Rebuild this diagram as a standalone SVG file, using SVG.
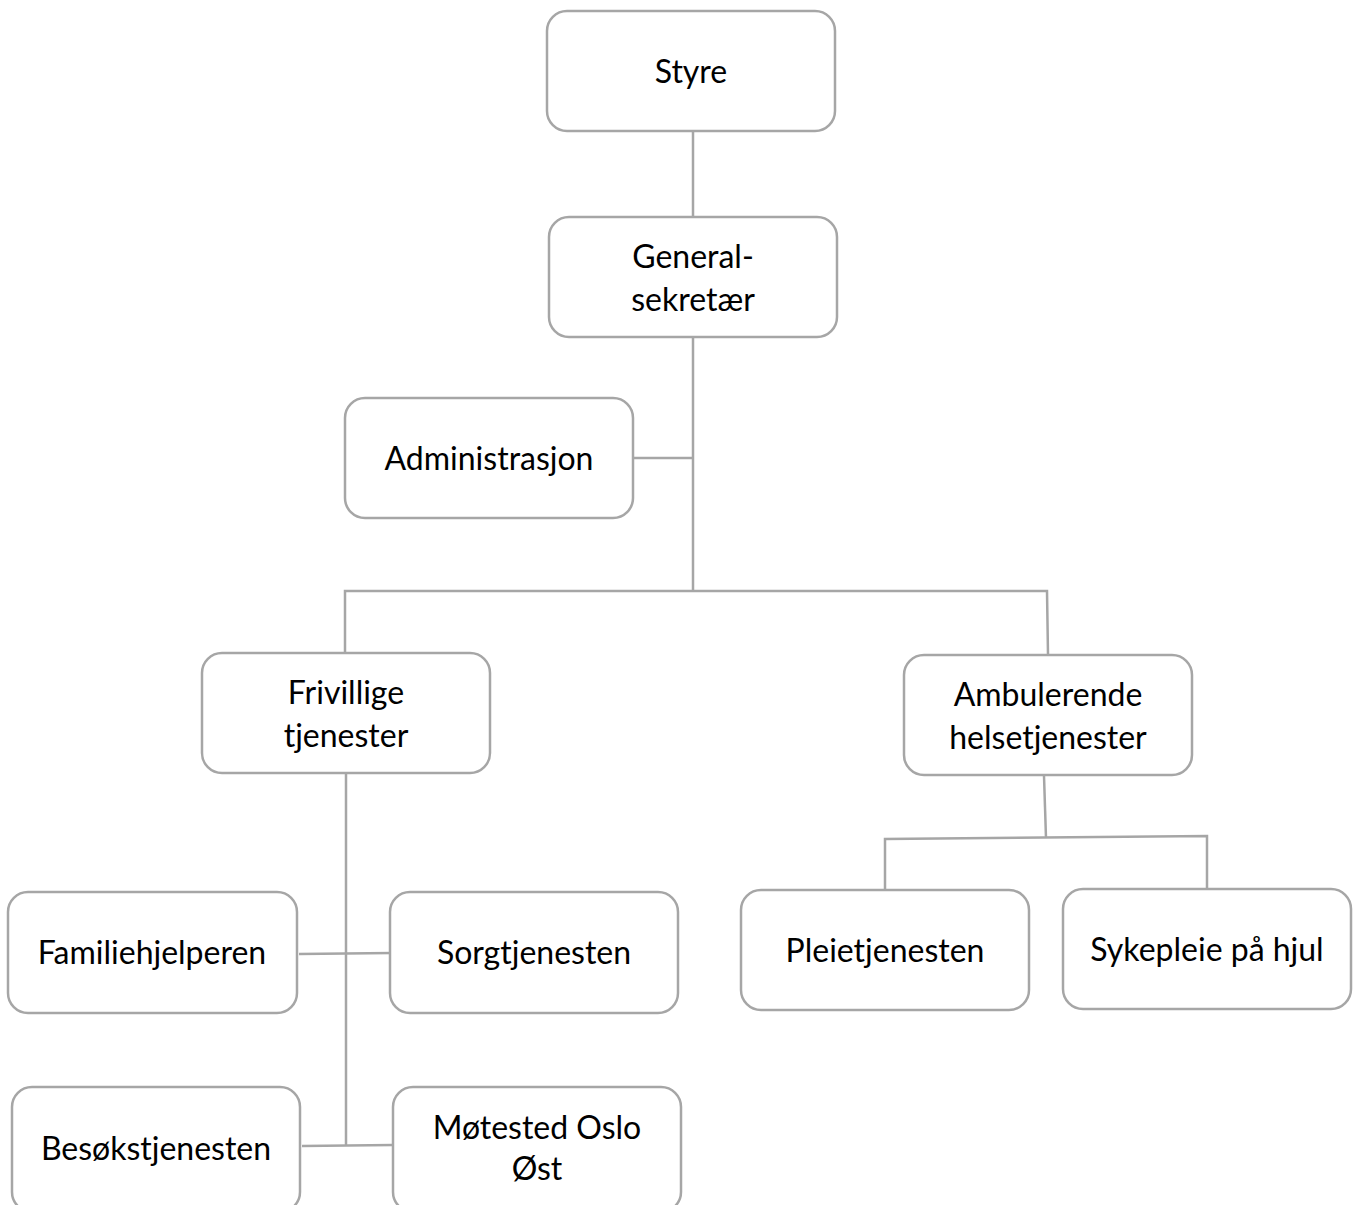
<svg xmlns="http://www.w3.org/2000/svg" width="1357" height="1205" viewBox="0 0 1357 1205">
<style>
.box{fill:#ffffff;stroke:#a6a6a6;stroke-width:2.5}
.ln{fill:none;stroke:#a6a6a6;stroke-width:2.5}
text{font-family:Lato,"Liberation Sans",sans-serif;font-size:32px;fill:#000000;text-anchor:middle}
</style>
<rect width="1357" height="1205" fill="#ffffff"/>
<g id="connectors">
<line class="ln" x1="693" y1="131" x2="693" y2="217"/>
<line class="ln" x1="693" y1="338" x2="693" y2="591"/>
<line class="ln" x1="634" y1="458" x2="693" y2="458"/>
<polyline class="ln" points="345,653 345,591 1047,591 1048,655"/>
<line class="ln" x1="1044" y1="776" x2="1046" y2="838"/>
<polyline class="ln" points="885,890 885,839 1207,836 1207,889"/>
<line class="ln" x1="346" y1="774" x2="346" y2="1146"/>
<line class="ln" x1="299" y1="954" x2="392" y2="953"/>
<line class="ln" x1="302" y1="1146" x2="393" y2="1145"/>
</g>
<g id="styre"><rect class="box" x="547" y="11" width="288" height="120" rx="20"/><text x="691" y="83">Styre</text></g>
<g id="generalsekretaer"><rect class="box" x="549" y="217" width="288" height="120" rx="20"/><text x="693" y="268">General-</text><text x="693" y="311">sekretær</text></g>
<g id="administrasjon"><rect class="box" x="345" y="398" width="288" height="120" rx="20"/><text x="489" y="470">Administrasjon</text></g>
<g id="frivillige"><rect class="box" x="202" y="653" width="288" height="120" rx="20"/><text x="346" y="704">Frivillige</text><text x="346" y="747">tjenester</text></g>
<g id="ambulerende"><rect class="box" x="904" y="655" width="288" height="120" rx="20"/><text x="1048" y="706">Ambulerende</text><text x="1048" y="749">helsetjenester</text></g>
<g id="familiehjelperen"><rect class="box" x="8" y="892" width="289" height="121" rx="20"/><text x="152" y="964">Familiehjelperen</text></g>
<g id="sorgtjenesten"><rect class="box" x="390" y="892" width="288" height="121" rx="20"/><text x="534" y="964">Sorgtjenesten</text></g>
<g id="pleietjenesten"><rect class="box" x="741" y="890" width="288" height="120" rx="20"/><text x="885" y="962">Pleietjenesten</text></g>
<g id="sykepleie"><rect class="box" x="1063" y="889" width="288" height="120" rx="20"/><text x="1207" y="961">Sykepleie på hjul</text></g>
<g id="besokstjenesten"><rect class="box" x="12" y="1087" width="288" height="125" rx="20"/><text x="156" y="1160">Besøkstjenesten</text></g>
<g id="motested"><rect class="box" x="393" y="1087" width="288" height="125" rx="20"/><text x="537" y="1139">Møtested Oslo</text><text x="537" y="1180">Øst</text></g>
</svg>
